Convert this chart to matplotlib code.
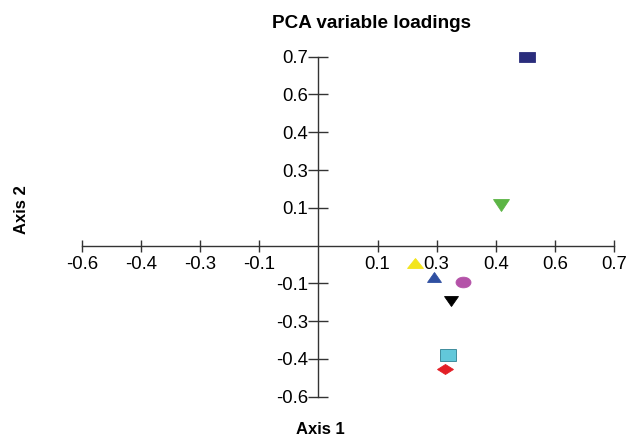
import matplotlib
matplotlib.use("Agg")
import matplotlib.pyplot as plt
from matplotlib.markers import MarkerStyle
from matplotlib.transforms import Affine2D

plt.rcParams["font.family"] = ["Liberation Sans", "DejaVu Sans"]

# loadings (axis 1, axis 2)
axis1 = [0.53, 0.463, 0.245, 0.292, 0.366, 0.337, 0.329, 0.321]
axis2 = [0.75, 0.163, -0.068, -0.123, -0.146, -0.219, -0.434, -0.491]

tick_values = [-0.6, -0.45, -0.3, -0.15, 0.15, 0.3, 0.45, 0.6, 0.75]
tick_labels = ["-0.6", "-0.4", "-0.3", "-0.1", "0.1", "0.3", "0.4", "0.6", "0.7"]

markers = ["s", "v", "^", "^", "o", "v", "s", "D"]
colors = ["#2a2d7c", "#5cb545", "#f3e51c", "#2f4fa1", "#b452a8", "#000000", "#62c8da", "#e31f26"]
edges = ["#2a2d7c", "#5cb545", "#f3e51c", "#2f4fa1", "#b452a8", "#000000", "#2d7f90", "#e31f26"]
sizes = [7.9, 8.2, 7.9, 7.4, 7.7, 7.4, 8.2, 5.5]

fig = plt.figure(figsize=(6.28, 4.37), dpi=100)
ax = fig.add_axes([82 / 628, 1 - 396.7 / 437, 532 / 628, 340 / 437])
ax.set_xlim(-0.6, 0.75)
ax.set_ylim(-0.6, 0.75)

for s in ("top", "right"):
    ax.spines[s].set_visible(False)
for s in ("left", "bottom"):
    ax.spines[s].set_position(("data", 0))
    ax.spines[s].set_color("#333333")
    ax.spines[s].set_linewidth(1.0)

ax.set_xticks(tick_values)
ax.set_xticklabels(tick_labels)
ax.set_yticks(tick_values)
ax.set_yticklabels(tick_labels)
ax.tick_params(axis="x", direction="inout", length=8.6, width=1.0, color="#333333",
               labelsize=13.3, pad=3)
ax.tick_params(axis="y", direction="inout", length=14.4, width=1.0, color="#333333",
               labelsize=13.3, pad=0)

stretch = Affine2D().scale(1.4, 1.0)
for x, y, m, c, e, ms in zip(axis1, axis2, markers, colors, edges, sizes):
    ax.plot(x, y, linestyle="none", marker=MarkerStyle(m, transform=stretch),
            markersize=ms, markerfacecolor=c, markeredgecolor=e,
            markeredgewidth=0.6, clip_on=False, zorder=3)

fig.text(372 / 628, 1 - 24 / 437, "PCA variable loadings", ha="center", va="center",
         fontsize=13.6, fontweight="bold")
fig.text(21 / 628, 1 - 210 / 437, "Axis 2", ha="center", va="center", rotation=90,
         fontsize=12, fontweight="bold")
fig.text(320 / 628, 1 - 430 / 437, "Axis 1", ha="center", va="center",
         fontsize=12, fontweight="bold")

fig.savefig("out.png", dpi=100)
